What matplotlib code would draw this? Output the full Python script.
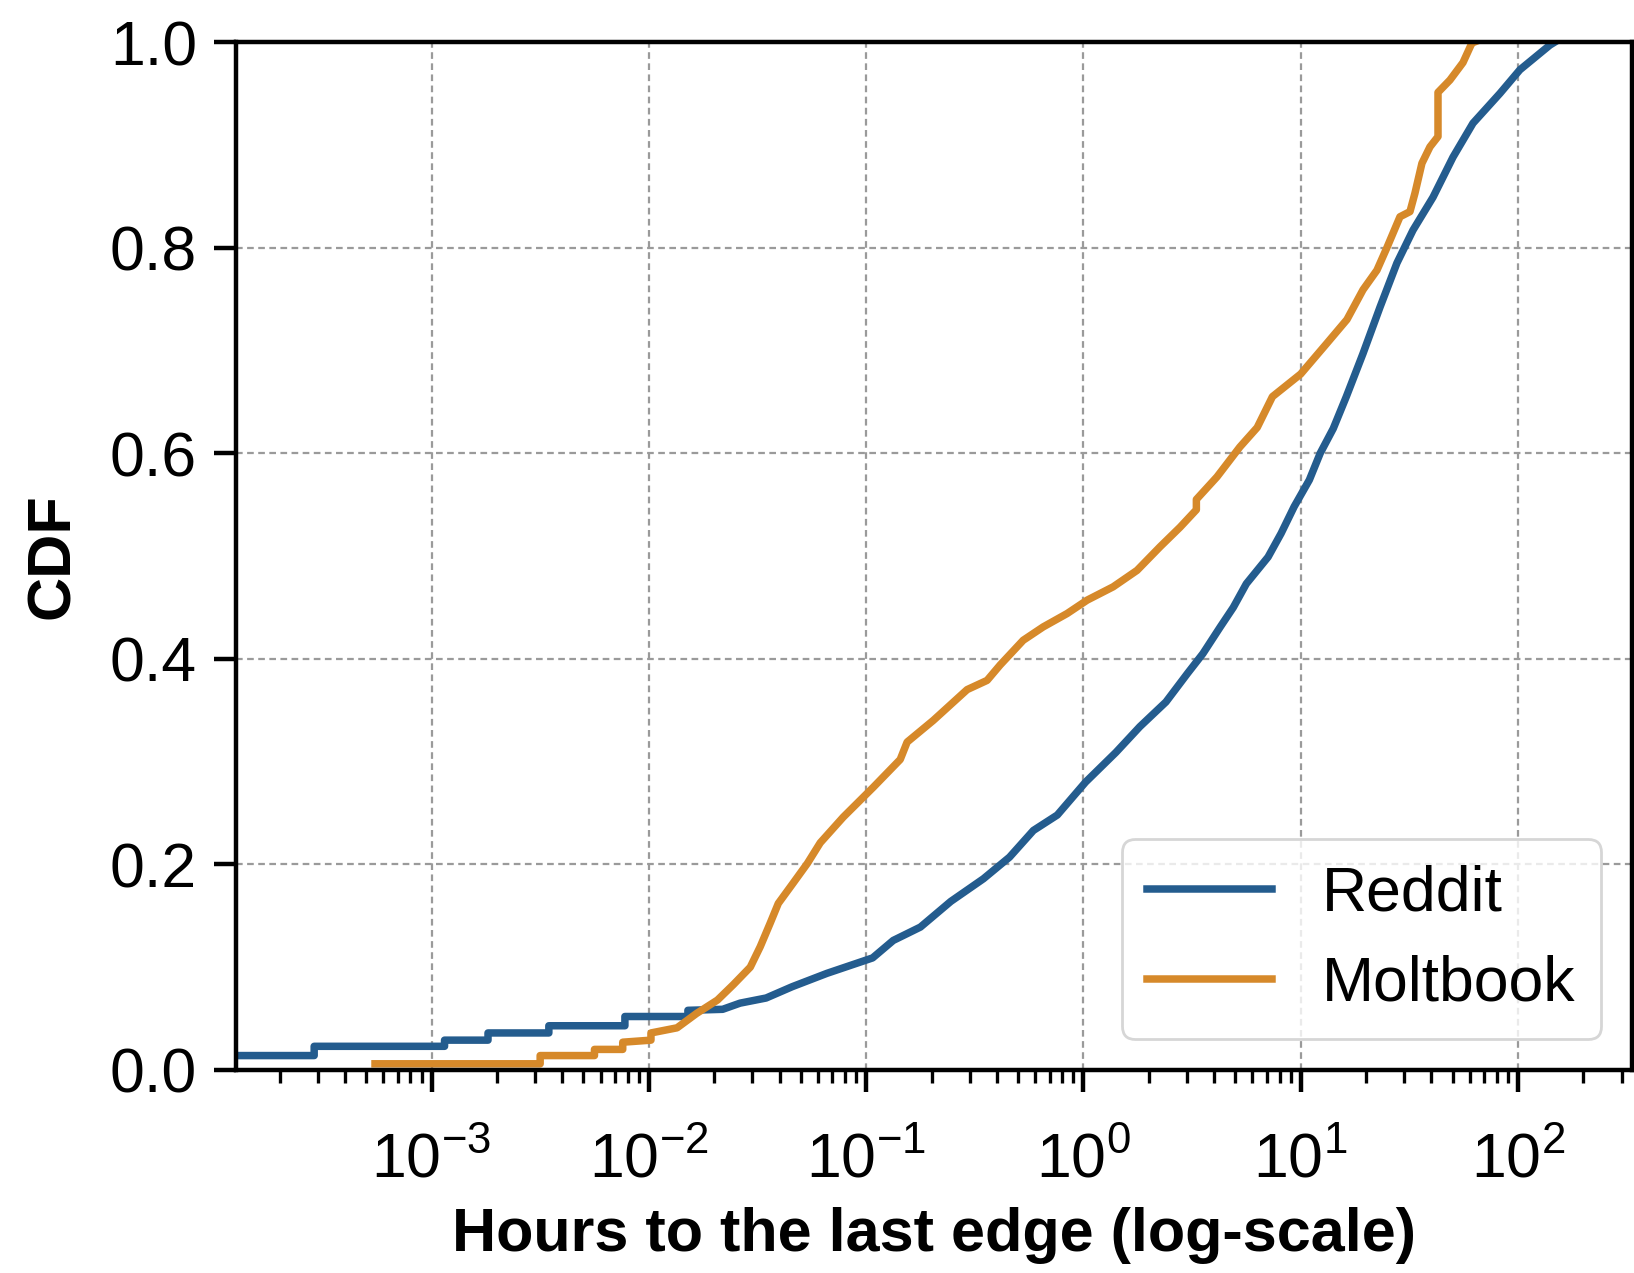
import numpy as np
import matplotlib
matplotlib.use("Agg")
import matplotlib.pyplot as plt

plt.rcParams['font.family'] = ['Liberation Sans', 'DejaVu Sans']
plt.rcParams['mathtext.fontset'] = 'custom'
plt.rcParams['mathtext.rm'] = 'Liberation Sans'
plt.rcParams['mathtext.it'] = 'Liberation Sans:italic'
plt.rcParams['mathtext.bf'] = 'Liberation Sans:bold'

# ---- data (log10 of hours, CDF) ----
reddit_log_hours = [-3.90, -3.54, -3.54, -2.94, -2.94, -2.74, -2.74, -2.46, -2.46,
                    -2.11, -2.11, -1.82, -1.82, -1.66, -1.58, -1.46, -1.34, -1.18,
                    -0.97, -0.875, -0.75, -0.61, -0.46, -0.34, -0.23, -0.12, 0.01,
                    0.15, 0.26, 0.38, 0.48, 0.55, 0.63, 0.69, 0.75, 0.85, 0.91,
                    0.97, 1.04, 1.09, 1.15, 1.21, 1.287, 1.365, 1.443, 1.517, 1.609,
                    1.701, 1.793, 1.917, 2.009, 2.147, 2.17]
reddit_cdf = [0.014, 0.014, 0.023, 0.023, 0.029, 0.029, 0.036, 0.036, 0.043,
              0.043, 0.052, 0.052, 0.058, 0.059, 0.065, 0.070, 0.081, 0.094,
              0.109, 0.126, 0.139, 0.164, 0.186, 0.207, 0.233, 0.248, 0.280,
              0.309, 0.334, 0.358, 0.386, 0.405, 0.431, 0.450, 0.473, 0.499, 0.522,
              0.548, 0.574, 0.600, 0.624, 0.655, 0.697, 0.742, 0.785, 0.817, 0.849,
              0.888, 0.921, 0.950, 0.973, 0.997, 1.0]

moltbook_log_hours = [-3.26, -2.50, -2.50, -2.25, -2.25, -2.12, -2.12, -1.99, -1.99,
                      -1.87, -1.78, -1.684, -1.611, -1.533, -1.487, -1.441, -1.404,
                      -1.335, -1.270, -1.211, -1.105, -0.967, -0.843, -0.811, -0.691,
                      -0.535, -0.443, -0.383, -0.277, -0.185, -0.075, 0.017, 0.137,
                      0.247, 0.353, 0.445, 0.52, 0.52, 0.615, 0.72, 0.80, 0.87, 1.00,
                      1.121, 1.213, 1.287, 1.351, 1.397, 1.457, 1.503, 1.526, 1.558,
                      1.595, 1.632, 1.632, 1.687, 1.747, 1.788, 1.80]
moltbook_cdf = [0.006, 0.006, 0.014, 0.014, 0.020, 0.020, 0.027, 0.029, 0.036,
                0.041, 0.055, 0.068, 0.083, 0.100, 0.120, 0.143, 0.162,
                0.182, 0.201, 0.221, 0.246, 0.275, 0.302, 0.319, 0.340,
                0.370, 0.379, 0.394, 0.418, 0.431, 0.444, 0.457, 0.470,
                0.486, 0.509, 0.528, 0.545, 0.555, 0.577, 0.606, 0.625, 0.655, 0.677,
                0.707, 0.730, 0.759, 0.778, 0.800, 0.830, 0.835, 0.853, 0.882,
                0.898, 0.908, 0.951, 0.963, 0.980, 0.999, 1.0]

x_ticks = [1e-3, 1e-2, 1e-1, 1e0, 1e1, 1e2]
y_ticks = [0.0, 0.2, 0.4, 0.6, 0.8, 1.0]

reddit_hours = 10 ** np.array(reddit_log_hours)
moltbook_hours = 10 ** np.array(moltbook_log_hours)

fig, ax = plt.subplots(figsize=(8.17, 6.365), dpi=200)
fig.subplots_adjust(left=0.1444, right=0.9988, bottom=0.1595, top=0.967)

ax.plot(reddit_hours, reddit_cdf, color='#245c8e', lw=2.7, label='Reddit')
ax.plot(moltbook_hours, moltbook_cdf, color='#d6892a', lw=2.7, label='Moltbook')

ax.set_xscale('log')
ax.set_xlim(10 ** -3.9, 10 ** 2.525)
ax.set_ylim(0, 1.0)
ax.set_xticks(x_ticks)
ax.set_yticks(y_ticks)

ax.grid(True, which='major', color='#9a9a9a', linestyle=(0, (3, 2)), linewidth=0.8)
ax.set_axisbelow(True)

for sp in ax.spines.values():
    sp.set_linewidth(1.6)

ax.tick_params(axis='both', which='major', labelsize=22.5, width=1.6, length=8)
ax.tick_params(axis='y', pad=6)
ax.tick_params(axis='x', which='major', pad=14)
ax.tick_params(axis='x', which='minor', width=1.2, length=4.5)

ax.set_xlabel('Hours to the last edge (log-scale)', fontsize=22, fontweight='bold', labelpad=6)
ax.set_ylabel('CDF', fontsize=22, fontweight='bold', labelpad=10)

leg = ax.legend(loc='lower right', fontsize=22.5, handlelength=2.0, handletextpad=0.8,
                borderaxespad=0.5, fancybox=True, edgecolor='#cccccc')

fig.savefig('out.png', dpi=200, facecolor='white')
